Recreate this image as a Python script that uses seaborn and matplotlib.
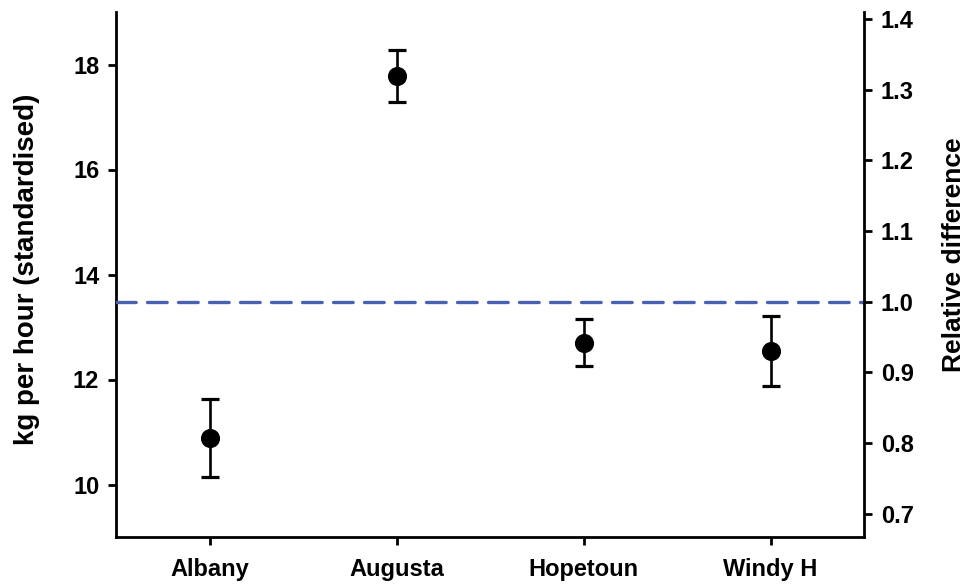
import numpy as np
import pandas as pd
import seaborn as sns
import matplotlib
matplotlib.use("Agg")
import matplotlib.pyplot as plt

# ---- data ----
sites = ["Albany", "Augusta", "Hopetoun", "Windy H"]
kg_mean = [10.88, 17.78, 12.70, 12.54]
kg_upper = [11.62, 18.27, 13.15, 13.21]
kg_lower = [10.14, 17.28, 12.26, 11.88]
reference_relative = 1.0
left_ticks = [10, 12, 14, 16, 18]
right_ticks = [0.7, 0.8, 0.9, 1.0, 1.1, 1.2, 1.3, 1.4]

sns.set_style("ticks")
plt.rcParams["font.family"] = ["Liberation Sans", "DejaVu Sans"]
plt.rcParams["font.weight"] = "bold"

df = pd.DataFrame({"site": sites, "kg": kg_mean,
                   "lo": kg_lower, "hi": kg_upper})

fig = plt.figure(figsize=(9.69, 5.87), dpi=100)
ax = fig.add_axes([116 / 969, 50 / 587, (864 - 116) / 969, (537 - 12) / 587])

yerr = np.array([df["kg"] - df["lo"], df["hi"] - df["kg"]])
ax.errorbar(df["site"], df["kg"], yerr=yerr, fmt="none", ecolor="black",
            elinewidth=1.9, capsize=6.2, capthick=2.3, zorder=3)
sns.scatterplot(data=df, x="site", y="kg", ax=ax, color="black", s=190,
                edgecolor="black", linewidth=0, zorder=4, legend=False)

ax.set_xlim(-0.5, 3.5)
ax.set_ylim(9, 19)
ax.set_yticks(left_ticks)
ax.set_yticklabels([str(t) for t in left_ticks])
ax.set_xlabel("")
ax.set_ylabel("kg per hour (standardised)", fontsize=20, fontweight="bold",
              color="black")
ax.yaxis.set_label_coords(-0.101, 0.509)

ax2 = ax.twinx()
ax2.set_ylim(0.667, 1.410)
ax2.set_yticks(right_ticks)
ax2.set_yticklabels([f"{t:.1f}" for t in right_ticks])
ax2.axhline(reference_relative, color="#4a60b0", linewidth=2.4,
            linestyle=(0, (5.9, 3.4)), dash_capstyle="round", zorder=2)
ax2.set_ylabel("Relative difference", fontsize=19, fontweight="bold",
               color="black")
ax2.yaxis.set_label_coords(1.104, 0.537)

for a in (ax, ax2):
    a.spines["top"].set_visible(False)
    for s in a.spines.values():
        s.set_linewidth(2.0)
        s.set_color("black")
    a.tick_params(axis="both", width=2.0, length=6, color="black",
                  labelsize=17, labelcolor="black")
    for lab in a.get_xticklabels() + a.get_yticklabels():
        lab.set_fontweight("bold")

ax.tick_params(axis="y", pad=6)
ax.tick_params(axis="x", pad=9)
ax2.tick_params(axis="y", pad=6)
ax2.spines["left"].set_visible(False)
ax2.spines["bottom"].set_visible(False)
ax.spines["right"].set_visible(False)

fig.savefig("out.png", dpi=100)
